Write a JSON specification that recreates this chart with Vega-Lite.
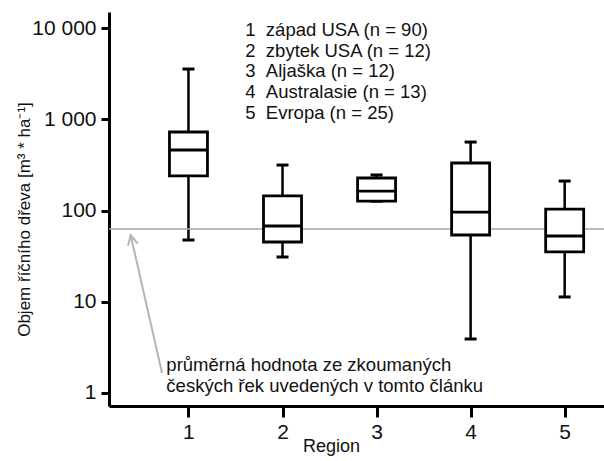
{
  "$schema": "https://vega.github.io/schema/vega-lite/v6.json",
  "width": 495,
  "height": 394,
  "autosize": {"type": "none"},
  "padding": {"left": 109, "top": 12, "right": 0, "bottom": 55},
  "background": "white",
  "config": {
    "view": {"stroke": null},
    "font": "Liberation Sans",
    "axis": {
      "domainColor": "black", "domainWidth": 3, "tickColor": "black", "tickWidth": 3,
      "grid": false, "labelColor": "#111", "labelFontSize": 21, "labelFont": "Liberation Sans",
      "titleFont": "Liberation Sans", "titleFontSize": 18, "titleFontWeight": "normal", "titleColor": "#111"
    },
    "axisX": {"tickSize": 11, "labelPadding": 4},
    "axisY": {"tickSize": 8, "labelPadding": 5}
  },
  "datasets": {
    "boxes": [
      {"region": 1, "lower": 47.6, "q1": 240, "median": 462, "q3": 728, "upper": 3570},
      {"region": 2, "lower": 31, "q1": 45.3, "median": 67.8, "q3": 145, "upper": 316},
      {"region": 3, "lower": 127, "q1": 127, "median": 164, "q3": 228, "upper": 246},
      {"region": 4, "lower": 3.91, "q1": 54, "median": 96.5, "q3": 333, "upper": 565},
      {"region": 5, "lower": 11.3, "q1": 35.2, "median": 52.7, "q3": 104, "upper": 211}
    ],
    "legend": [
      {"num": "1", "name": "západ USA (n = 90)", "v": 9550},
      {"num": "2", "name": "zbytek USA (n = 12)", "v": 5665},
      {"num": "3", "name": "Aljaška (n = 12)", "v": 3360},
      {"num": "4", "name": "Australasie (n = 13)", "v": 1997},
      {"num": "5", "name": "Evropa (n = 25)", "v": 1175}
    ],
    "note": [
      {"t": "průměrná hodnota ze zkoumaných", "v": 2.03},
      {"t": "českých řek uvedených v tomto článku", "v": 1.19}
    ],
    "czech": [{"value": 62.9}],
    "arrow": [{"x1": 0.719, "y1": 1.66, "x2": 0.385, "y2": 54}]
  },
  "layer": [
    {
      "data": {"name": "boxes"},
      "mark": {"type": "rule", "color": "black", "strokeWidth": 2.5},
      "encoding": {
        "x": {"field": "region", "type": "quantitative", "scale": {"domain": [0.2083, 5.365], "nice": false, "zero": false},
              "axis": {"values": [1, 2, 3, 4, 5], "format": "d", "title": "Region", "titleX": 222, "titleY": 31, "titleBaseline": "top"}},
        "y": {"field": "lower", "type": "quantitative", "scale": {"type": "log", "domain": [0.72, 15070], "nice": false},
              "axis": {"values": [1, 10, 100, 1000, 10000], "labelExpr": "datum.value == 10000 ? '10 000' : datum.value == 1000 ? '1 000' : format(datum.value, 'd')",
                       "title": "Objem říčního dřeva [m³ * ha⁻¹]", "titleFontSize": 17, "titleX": -85, "titleY": 207, "titleBaseline": "middle"}},
        "y2": {"field": "upper"}
      }
    },
    {
      "data": {"name": "czech"},
      "mark": {"type": "rule", "color": "#a8a8a8", "strokeWidth": 1.5},
      "encoding": {
        "y": {"field": "value", "type": "quantitative", "scale": {"type": "log", "domain": [0.72, 15070], "nice": false}}
      }
    },
    {
      "data": {"name": "arrow"},
      "mark": {"type": "rule", "color": "#b5b5b5", "strokeWidth": 2},
      "encoding": {
        "x": {"field": "x1", "type": "quantitative", "scale": {"domain": [0.2083, 5.365], "nice": false, "zero": false}},
        "x2": {"field": "x2"},
        "y": {"field": "y1", "type": "quantitative", "scale": {"type": "log", "domain": [0.72, 15070], "nice": false}},
        "y2": {"field": "y2"}
      }
    },
    {
      "data": {"name": "arrow"},
      "mark": {"type": "point", "shape": "M-0.5,1L0,0L0.5,1", "filled": false, "stroke": "#b5b5b5", "strokeWidth": 2, "size": 400, "angle": -13, "opacity": 1},
      "encoding": {
        "x": {"field": "x2", "type": "quantitative", "scale": {"domain": [0.2083, 5.365], "nice": false, "zero": false}},
        "y": {"field": "y2", "type": "quantitative", "scale": {"type": "log", "domain": [0.72, 15070], "nice": false}}
      }
    },
    {
      "data": {"name": "boxes"},
      "mark": {"type": "tick", "orient": "horizontal", "color": "black", "size": 12, "thickness": 3, "opacity": 1},
      "encoding": {
        "x": {"field": "region", "type": "quantitative", "scale": {"domain": [0.2083, 5.365], "nice": false, "zero": false}},
        "y": {"field": "upper", "type": "quantitative", "scale": {"type": "log", "domain": [0.72, 15070], "nice": false}}
      }
    },
    {
      "data": {"name": "boxes"},
      "mark": {"type": "tick", "orient": "horizontal", "color": "black", "size": 12, "thickness": 3, "opacity": 1},
      "encoding": {
        "x": {"field": "region", "type": "quantitative", "scale": {"domain": [0.2083, 5.365], "nice": false, "zero": false}},
        "y": {"field": "lower", "type": "quantitative", "scale": {"type": "log", "domain": [0.72, 15070], "nice": false}}
      }
    },
    {
      "data": {"name": "boxes"},
      "mark": {"type": "bar", "size": 38, "fill": "white", "stroke": "black", "strokeWidth": 2.8, "opacity": 1},
      "encoding": {
        "x": {"field": "region", "type": "quantitative", "scale": {"domain": [0.2083, 5.365], "nice": false, "zero": false}},
        "y": {"field": "q1", "type": "quantitative", "scale": {"type": "log", "domain": [0.72, 15070], "nice": false}},
        "y2": {"field": "q3"}
      }
    },
    {
      "data": {"name": "boxes"},
      "mark": {"type": "tick", "orient": "horizontal", "color": "black", "size": 38, "thickness": 2.8, "opacity": 1},
      "encoding": {
        "x": {"field": "region", "type": "quantitative", "scale": {"domain": [0.2083, 5.365], "nice": false, "zero": false}},
        "y": {"field": "median", "type": "quantitative", "scale": {"type": "log", "domain": [0.72, 15070], "nice": false}}
      }
    },
    {
      "data": {"name": "legend"},
      "mark": {"type": "text", "align": "left", "baseline": "middle", "fontSize": 18.5, "color": "#111"},
      "encoding": {
        "x": {"datum": 1.604, "type": "quantitative", "scale": {"domain": [0.2083, 5.365], "nice": false, "zero": false}},
        "y": {"field": "v", "type": "quantitative", "scale": {"type": "log", "domain": [0.72, 15070], "nice": false}},
        "text": {"field": "num"}
      }
    },
    {
      "data": {"name": "legend"},
      "mark": {"type": "text", "align": "left", "baseline": "middle", "fontSize": 18.5, "color": "#111"},
      "encoding": {
        "x": {"datum": 1.823, "type": "quantitative", "scale": {"domain": [0.2083, 5.365], "nice": false, "zero": false}},
        "y": {"field": "v", "type": "quantitative", "scale": {"type": "log", "domain": [0.72, 15070], "nice": false}},
        "text": {"field": "name"}
      }
    },
    {
      "data": {"name": "note"},
      "mark": {"type": "text", "align": "left", "baseline": "middle", "fontSize": 18.5, "color": "#111"},
      "encoding": {
        "x": {"datum": 0.765, "type": "quantitative", "scale": {"domain": [0.2083, 5.365], "nice": false, "zero": false}},
        "y": {"field": "v", "type": "quantitative", "scale": {"type": "log", "domain": [0.72, 15070], "nice": false}},
        "text": {"field": "t"}
      }
    }
  ]
}
